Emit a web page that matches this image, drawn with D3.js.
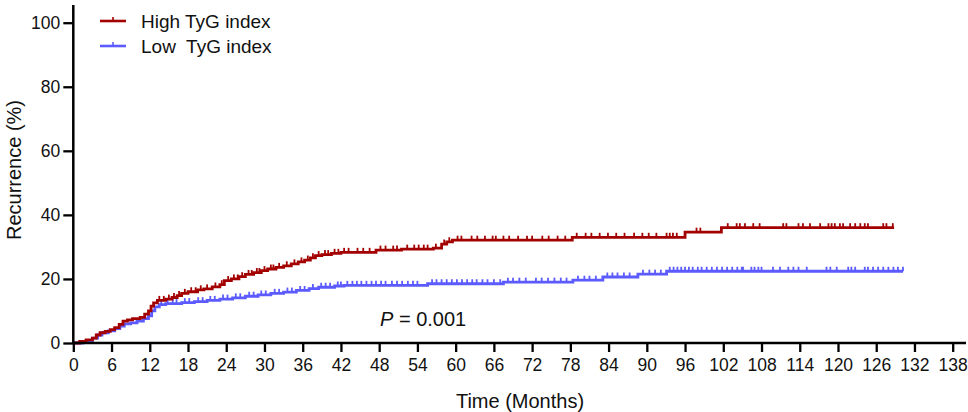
<!DOCTYPE html>
<html><head><meta charset="utf-8">
<script src="https://cdn.jsdelivr.net/npm/d3@7"></script>
<style>
body{margin:0;background:#fff;}
text{font-family:"Liberation Sans",Arial,sans-serif;fill:#111;}
</style></head>
<body><svg id="c" width="968" height="412"></svg>
<script>
// ---- data ----
const xTicks = [0,6,12,18,24,30,36,42,48,54,60,66,72,78,84,90,96,102,108,114,120,126,132,138];
const yTicks = [0,20,40,60,80,100];
const seriesNames = ["High TyG index","Low  TyG index"];
const seriesColors = ["#a30000","#5b5bff"];

// step events: [month, cumulative recurrence %]
const highEvents = [[0,0],[1.0,0.5],[2.0,1.0],[3.0,1.5],[3.6,2.5],[4.2,3.2],[5.0,3.6],[5.8,4.2],[6.5,4.8],[7.2,5.8],[7.8,6.8],[8.5,7.2],[9.3,7.6],[10.5,8.0],[11.2,9.0],[11.8,10.0],[12.2,11.5],[12.6,12.5],[13.2,13.3],[14.5,13.7],[15.5,14.2],[16.3,14.8],[17.0,15.5],[18.0,16.0],[19.5,16.6],[20.5,16.9],[21.8,17.5],[23.0,18.2],[23.7,19.5],[24.8,20.0],[26.0,20.7],[27.0,21.4],[28.3,22.0],[29.5,22.6],[30.5,23.1],[31.8,23.6],[33.0,24.1],[34.2,24.7],[35.3,25.3],[36.3,25.9],[37.2,26.6],[38.0,27.3],[39.0,27.6],[40.5,28.0],[42.0,28.3],[47.5,29.0],[51.5,29.3],[56.5,29.6],[57.8,30.9],[58.6,31.6],[59.5,32.1],[78.3,33.0],[96.0,34.6],[101.7,36.0]];
const highEnd = 128.8;
const highCensor = [13.5,14.2,15.0,15.8,16.6,17.5,18.5,19.2,20.0,21.0,22.3,23.3,24.3,25.2,25.8,26.5,27.5,28.0,28.8,29.2,30.0,31.0,31.4,32.3,33.5,34.7,35.8,36.8,37.6,38.5,39.5,40.0,41.0,41.6,42.5,43.2,44.6,45.5,46.5,48.2,49.0,50.2,50.8,52.4,53.5,54.2,55.0,55.6,56.9,58.2,59.0,60.3,60.9,62.5,63.4,64.6,65.8,66.3,67.5,68.4,69.8,71.2,72.0,73.6,74.6,76.0,77.2,79.0,80.4,81.3,82.6,83.9,85.2,86.5,88.0,89.3,90.3,91.5,93.1,93.6,94.1,94.7,97.8,98.4,102.7,104.1,104.6,105.4,106.7,107.7,111.4,111.9,113.8,114.5,115.6,117.2,118.5,119.0,119.5,120.3,120.8,121.9,122.7,123.5,124.2,124.7,127.1,127.6,128.6];

const lowEvents = [[0,0],[1.5,0.5],[3.0,1.5],[3.8,2.5],[4.5,3.2],[5.5,3.8],[6.5,4.5],[7.3,5.3],[8.0,6.0],[9.0,6.3],[10.0,6.8],[11.0,7.6],[11.8,8.5],[12.3,10.0],[12.8,11.3],[13.5,12.0],[14.5,12.3],[17.0,12.6],[19.0,12.9],[21.0,13.3],[23.0,13.7],[25.0,14.1],[27.0,14.6],[29.0,15.0],[31.0,15.5],[33.0,15.9],[35.0,16.4],[37.0,17.0],[38.5,17.4],[41.0,17.8],[42.5,18.0],[55.6,18.5],[67.5,19.0],[78.4,19.6],[83.1,20.6],[88.6,21.5],[93.1,22.4]];
const lowEnd = 130.2;
const lowCensor = [13.8,14.8,15.6,16.2,17.5,18.2,19.6,20.3,21.5,22.2,23.5,24.2,25.5,26.2,27.6,28.3,29.5,30.2,31.6,32.3,33.6,34.3,35.6,36.3,37.6,38.9,39.6,40.3,41.5,42.0,43.0,43.8,44.5,45.2,46.0,46.8,47.5,48.3,49.0,50.0,50.8,51.6,52.5,53.3,54.0,56.3,57.0,57.8,58.6,59.4,60.2,61.0,61.8,62.6,63.3,64.2,65.0,66.0,67.0,68.2,69.0,70.0,71.0,72.6,73.5,74.5,75.5,76.5,77.4,79.2,80.2,81.0,82.0,83.8,84.6,85.4,86.4,87.3,89.4,90.4,91.3,92.2,93.6,94.2,94.8,95.4,96.0,96.6,97.2,98.0,98.6,99.4,100.2,101.0,101.8,102.6,103.4,104.2,104.9,105.1,106.4,106.9,107.5,108.0,109.8,110.9,112.2,113.0,113.8,115.1,118.2,118.8,119.8,121.6,122.1,122.7,124.2,124.7,125.5,126.3,127.1,127.9,128.7,129.4,130.2];

const pText = "= 0.001";
const xLabel = "Time (Months)";
const yLabel = "Recurrence (%)";

// ---- chart ----
const svg = d3.select("#c");
const x = d3.scaleLinear().domain([0,138]).range([73.3,952.7]);
const y = d3.scaleLinear().domain([0,100]).range([343,22.7]);
const FF = "Liberation Sans, Arial, sans-serif";

function stepPath(ev,end){
  const pts = ev.slice();
  pts.push([end, ev[ev.length-1][1]]);
  return d3.line().x(d=>x(d[0])).y(d=>y(d[1])).curve(d3.curveStepAfter)(pts);
}
function valAt(ev,t){
  let v=0; for(const e of ev){ if(e[0]<=t) v=e[1]; else break; } return v;
}
function drawSeries(ev,end,cens,color){
  const g = svg.append("g");
  g.append("path").attr("d",stepPath(ev,end)).attr("fill","none")
    .attr("stroke",color).attr("stroke-width",2.8);
  g.selectAll("line.c").data(cens).enter().append("line")
    .attr("x1",d=>x(d)).attr("x2",d=>x(d))
    .attr("y1",d=>y(valAt(ev,d))).attr("y2",d=>y(valAt(ev,d))-4.5)
    .attr("stroke",color).attr("stroke-width",1.8);
}
drawSeries(lowEvents,lowEnd,lowCensor,seriesColors[1]);
drawSeries(highEvents,highEnd,highCensor,seriesColors[0]);

// axes
const xAxis = svg.append("g").attr("transform","translate(0,343)")
  .call(d3.axisBottom(x).tickValues(xTicks).tickSize(9).tickPadding(7).tickSizeOuter(0));
xAxis.select(".domain").attr("d",`M${x(0)},0H966`);
xAxis.selectAll("text").attr("font-size",17.5).attr("font-family",FF).attr("fill","#111");
const yAxis = svg.append("g").attr("transform","translate(73.3,0)")
  .call(d3.axisLeft(y).tickValues(yTicks).tickSize(10).tickPadding(3).tickSizeOuter(0));
yAxis.select(".domain").attr("d",`M0,${y(0)}V5`);
yAxis.selectAll("text").attr("font-size",17.5).attr("font-family",FF).attr("fill","#111");
svg.selectAll(".domain").attr("stroke","#000").attr("stroke-width",2.5);
svg.selectAll(".tick line").attr("stroke","#000").attr("stroke-width",2.3);

// labels
svg.append("text").attr("x",520).attr("y",408).attr("text-anchor","middle")
  .attr("font-size",20).text(xLabel);
svg.append("text").attr("transform","translate(21,170) rotate(-90)").attr("text-anchor","middle")
  .attr("font-size",20).text(yLabel);

// P value
const pt = svg.append("text").attr("x",380).attr("y",325.5).attr("font-size",20);
pt.append("tspan").attr("font-style","italic").text("P");
pt.append("tspan").text(" "+pText);

// legend
seriesNames.forEach((n,i)=>{
  const yy = 21 + i*25;
  svg.append("line").attr("x1",100).attr("x2",126).attr("y1",yy).attr("y2",yy)
    .attr("stroke",seriesColors[i]).attr("stroke-width",2.6);
  svg.append("line").attr("x1",113).attr("x2",113).attr("y1",yy).attr("y2",yy-4)
    .attr("stroke",seriesColors[i]).attr("stroke-width",1.6);
  svg.append("text").attr("x",141).attr("y",yy+7).attr("font-size",19)
    .style("white-space","pre").text(n);
});
</script></body></html>
